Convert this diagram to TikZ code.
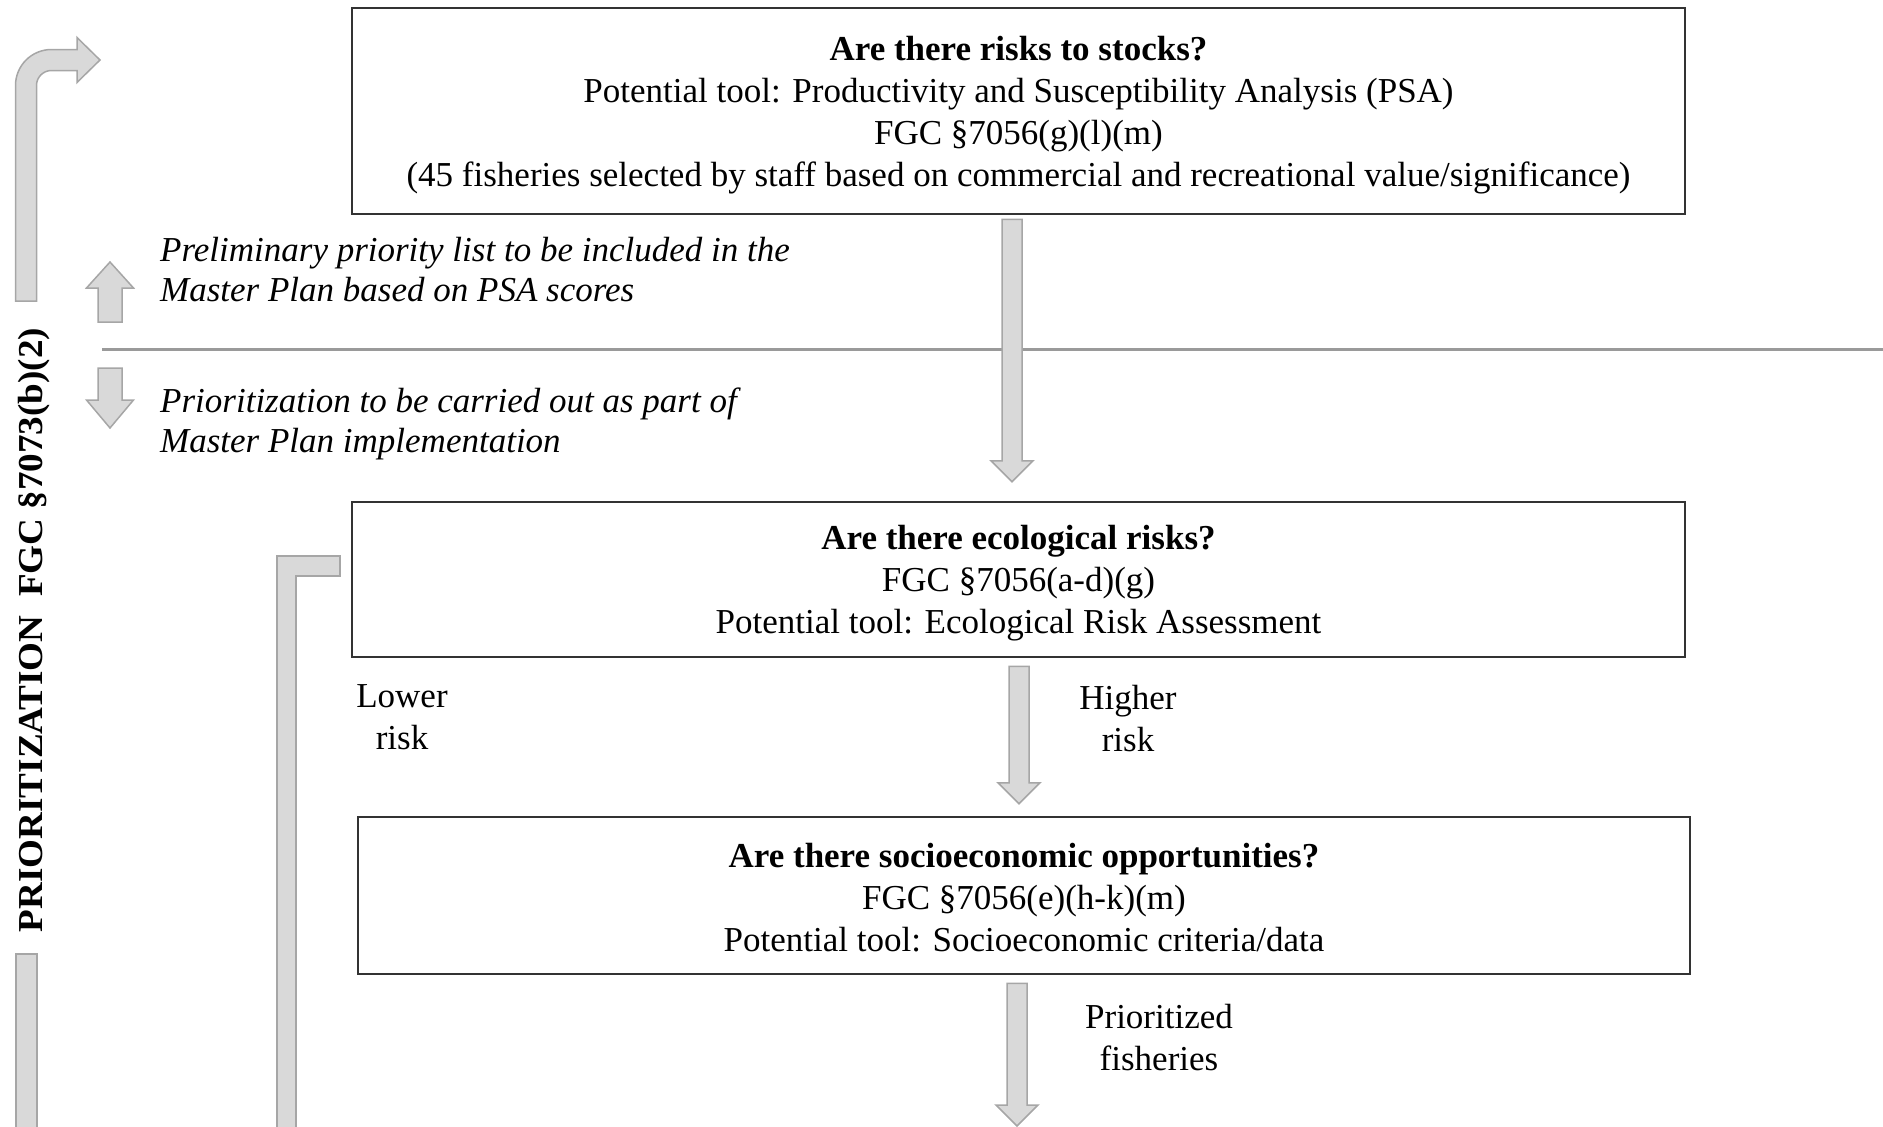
\documentclass[tikz,border=0pt]{standalone}
\usepackage{fontspec}
\setmainfont{Liberation Serif}
\usetikzlibrary{calc}
\definecolor{boxgray}{HTML}{333333}
\definecolor{barfill}{HTML}{D9D9D9}
\definecolor{baredge}{HTML}{A6A6A6}
\definecolor{sepgray}{HTML}{9A9A9A}
\newcommand\fs{\fontsize{35}{42}\selectfont}
\newcommand\fsi{\fontsize{35}{40}\selectfont}
\newcommand\topstrut{\rule{0pt}{32pt}}
\tikzset{
  qbox/.style={draw=boxgray, line width=2.5pt, inner sep=0pt, align=center, font=\fs},
  graybar/.style={fill=barfill, draw=baredge, line width=1.5pt, line join=miter},
  note/.style={font=\fsi\itshape, align=left, inner sep=0pt, anchor=west},
  lab/.style={font=\fs, align=center, inner sep=0pt},
  sepline/.style={draw=sepgray, line width=3pt},
  vlab/.style={font=\fs\bfseries, inner sep=0pt, rotate=90},
}
\newcommand\downblock[2]{%
  \draw[graybar] let \p1=(#1), \p2=(#2) in
    (\x1-10pt,\y1) -- (\x1+10pt,\y1) -- (\x1+10pt,\y2+21pt) -- (\x1+21pt,\y2+21pt)
    -- (\x1,\y2) -- (\x1-21pt,\y2+21pt) -- (\x1-10pt,\y2+21pt) -- cycle;}
\begin{document}
\begin{tikzpicture}[x=1pt,y=-1pt]
\useasboundingbox (0,0) rectangle (1883,1127);

% boxes
\node[qbox, minimum width=1333pt, minimum height=206pt] (box1) at (1018.5,111)
  {\topstrut\textbf{Are there risks to stocks?}\\
   Potential tool: Productivity and Susceptibility Analysis (PSA)\\
   FGC §7056(g)(l)(m)\\
   (45 fisheries selected by staff based on commercial and recreational value/significance)};
\node[qbox, minimum width=1333pt, minimum height=155pt] (box2) at (1018.5,579.5)
  {\topstrut\textbf{Are there ecological risks?}\\
   FGC §7056(a-d)(g)\\
   Potential tool: Ecological Risk Assessment};
\node[qbox, minimum width=1332pt, minimum height=157pt] (box3) at (1024,895.5)
  {\rule{0pt}{28pt}\textbf{Are there socioeconomic opportunities?}\\
   FGC §7056(e)(h-k)(m)\\
   Potential tool: Socioeconomic criteria/data};

% separator line
\coordinate (sepL) at (102,349);
\coordinate (sepR) at (1883,349);
\draw[sepline] (sepL) -- (sepR);

% notes
\node[note] (noteA) at (160,270) {Preliminary priority list to be included in the\\Master Plan based on PSA scores};
\node[note] (noteB) at (160,424) {Prioritization to be carried out as part of\\Master Plan implementation};

% labels
\node[lab] (lower) at (402,717) {Lower\\risk};
\node[lab] (higher) at (1128,719) {Higher\\risk};
\node[lab] (prio) at (1159,1038) {Prioritized\\fisheries};

% vertical label
\node[vlab] (vlabel) at (34,630) {\scalebox{1.06}[1]{PRIORITIZATION\ \ FGC §7073(b)(2)}};

% block arrows between boxes
\coordinate (a1s) at ($(box1.south)+(-6.5,4)$);
\coordinate (a1e) at ($(box2.north)+(-6.5,-19)$);
\downblock{a1s}{a1e}
\coordinate (a2s) at ($(box2.south)+(0.5,8)$);
\coordinate (a2e) at ($(box3.north)+(-5,-12)$);
\downblock{a2s}{a2e}
\coordinate (a3s) at ($(box3.south)+(-7,8)$);
\coordinate (a3e) at (1017,1126);
\downblock{a3s}{a3e}

% small up / down arrows next to the separator
\draw[graybar] (98,322) -- (98,288) -- (86.5,288) -- (110,262) -- (133.5,288) -- (122,288) -- (122,322) -- cycle;
\draw[graybar] (98,368) -- (122,368) -- (122,400) -- (133.5,400) -- (110,428) -- (86.5,400) -- (98,400) -- cycle;

% bent arrow at top left
\draw[graybar] (15.5,301) -- (15.5,85.5)
  .. controls (15.5,65.6) and (31.6,49.5) .. (51.5,49.5)
  -- (77,49.5) -- (77,37.5) -- (100,60) -- (77,82.5) -- (77,70.5) -- (51.5,70.5)
  .. controls (43.2,70.5) and (36.5,77.2) .. (36.5,85.5)
  -- (36.5,301) -- cycle;

% bar below vertical label
\draw[graybar] (16,1128) -- (16,954) -- (37,954) -- (37,1128);

% bracket bar
\draw[graybar] (277,1128) -- (277,556) -- (340,556) -- (340,576) -- (296,576) -- (296,1128);
\end{tikzpicture}
\end{document}
